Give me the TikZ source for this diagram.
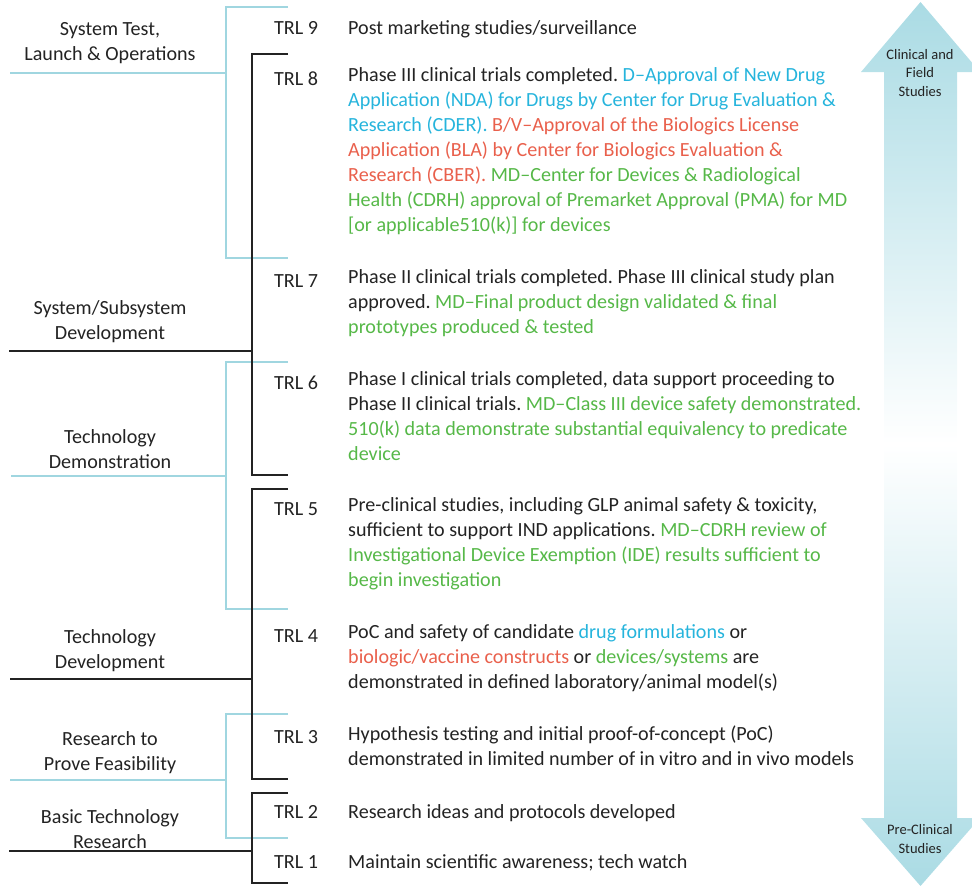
\documentclass[tikz,border=0pt]{standalone}
\usepackage{fontspec}
\setmainfont{Carlito}
\usepackage{tikz}
\usetikzlibrary{positioning,calc}
\usepackage{xcolor}

\definecolor{brk}{RGB}{160,214,224}
\definecolor{ink}{RGB}{35,35,35}
\definecolor{dcyan}{RGB}{38,180,220}
\definecolor{bred}{RGB}{233,96,76}
\definecolor{mgreen}{RGB}{86,184,72}
\definecolor{arw}{RGB}{170,219,228}
\newcommand{\trlfont}{\fontsize{20.1}{25}\selectfont}
\newcommand{\arwfont}{\fontsize{14.5}{18.5}\selectfont}
\newcommand{\Dc}[1]{\textcolor{dcyan}{#1}}
\newcommand{\Bv}[1]{\textcolor{bred}{#1}}
\newcommand{\Md}[1]{\textcolor{mgreen}{#1}}
\frenchspacing

\begin{document}
\begin{tikzpicture}[x=1pt, y=-1pt,
    cb/.style={brk, line width=2pt},
    kb/.style={ink, line width=2pt},
    stage/.style={align=center, font=\trlfont, text=ink, inner sep=0pt},
    lvl/.style={anchor=north west, font=\trlfont, text=ink, inner sep=0pt, execute at begin node=\strut},
    desc/.style={lvl, align=left},
    arwlbl/.style={align=center, font=\arwfont, text=ink, inner sep=0pt}
]
\useasboundingbox (0,0) rectangle (972,886);
\shade[top color=arw, bottom color=arw, middle color=white]
  (920.5,2) -- (980,72) -- (957,72) -- (957,818) -- (980,818) -- (920.5,886)
  -- (861,818) -- (884,818) -- (884,72) -- (861,72) -- cycle;
\node[arwlbl] (clin) at (920,73) {Clinical and\\Field\\Studies};
\node[arwlbl] (precl) at (920,839) {Pre-Clinical\\Studies};

\draw[cb] (288,7) -- (226,7) -- (226,258) -- (288,258);
\draw[cb] (10,73) -- (226,73);
\draw[cb] (288,362) -- (226,362) -- (226,609) -- (288,609);
\draw[cb] (11,476) -- (226,476);
\draw[cb] (288,714) -- (226,714) -- (226,838) -- (288,838);
\draw[cb] (10,780) -- (226,780);
\draw[kb] (288,54) -- (252,54) -- (252,475) -- (288,475);
\draw[kb] (9,351) -- (252,351);
\draw[kb] (288,489) -- (252,489) -- (252,779) -- (288,779);
\draw[kb] (10,679) -- (252,679);
\draw[kb] (288,793) -- (252,793) -- (252,883) -- (288,883);
\draw[kb] (9,851) -- (252,851);

\node[stage] (s9) at (110,43) {System Test,\\Launch \& Operations};
\node[stage] (s7) at (110,322) {System/Subsystem\\Development};
\node[stage] (s6) at (110,449) {Technology\\Demonstration};
\node[stage] (s4) at (110,651) {Technology\\Development};
\node[stage] (s3) at (110,753) {Research to\\Prove Feasibility};
\node[stage] (s2) at (110,829) {Basic Technology\\Research};

\node[lvl] (t9) at (274,16.5) {TRL 9};
\node[lvl] (t8) at (274,67.5) {TRL 8};
\node[lvl] (t7) at (274,269.5) {TRL 7};
\node[lvl] (t6) at (274,371.5) {TRL 6};
\node[lvl] (t5) at (274,497.5) {TRL 5};
\node[lvl] (t4) at (274,624.5) {TRL 4};
\node[lvl] (t3) at (274,725.5) {TRL 3};
\node[lvl] (t2) at (274,800.5) {TRL 2};
\node[lvl] (t1) at (274,850.5) {TRL 1};

\node[desc] (d9) at (348,16.5) {Post marketing studies/surveillance};
\node[desc] (d8) at (348,67.5) {Phase III clinical trials completed. \Dc{D\textendash Approval of New Drug}\\
\Dc{Application (NDA) for Drugs by Center for Drug Evaluation \&}\\
\Dc{Research (CDER).} \Bv{B/V\textendash Approval of the Biologics License}\\
\Bv{Application (BLA) by Center for Biologics Evaluation \&}\\
\Bv{Research (CBER).} \Md{MD\textendash Center for Devices \& Radiological}\\
\Md{Health (CDRH) approval of Premarket Approval (PMA) for MD}\\
\Md{[or applicable510(k)] for devices}};
\node[desc] (d7) at (348,269.5) {Phase II clinical trials completed. Phase III clinical study plan\\
approved. \Md{MD\textendash Final product design validated \& final}\\
\Md{prototypes produced \& tested}};
\node[desc] (d6) at (348,371.5) {Phase I clinical trials completed, data support proceeding to\\
Phase II clinical trials. \Md{MD\textendash Class III device safety demonstrated.}\\
\Md{510(k) data demonstrate substantial equivalency to predicate}\\
\Md{device}};
\node[desc] (d5) at (348,497.5) {Pre-clinical studies, including GLP animal safety \& toxicity,\\
sufficient to support IND applications. \Md{MD\textendash CDRH review of}\\
\Md{Investigational Device Exemption (IDE) results sufficient to}\\
\Md{begin investigation}};
\node[desc] (d4) at (348,624.5) {PoC and safety of candidate \Dc{drug formulations} or\\
\Bv{biologic/vaccine constructs} or \Md{devices/systems} are\\
demonstrated in defined laboratory/animal model(s)};
\node[desc] (d3) at (348,725.5) {Hypothesis testing and initial proof-of-concept (PoC)\\
demonstrated in limited number of in vitro and in vivo models};
\node[desc] (d2) at (348,800.5) {Research ideas and protocols developed};
\node[desc] (d1) at (348,850.5) {Maintain scientific awareness; tech watch};
\end{tikzpicture}
\end{document}
